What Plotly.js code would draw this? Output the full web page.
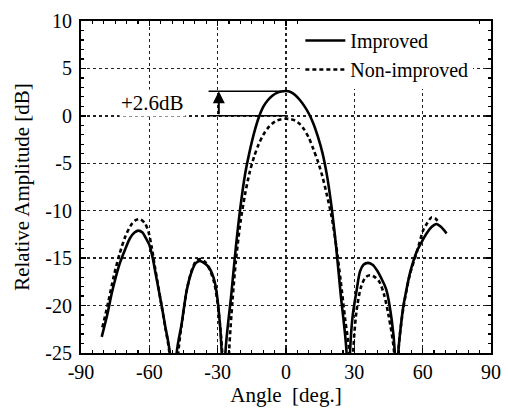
<!DOCTYPE html>
<html>
<head>
<meta charset="utf-8">
<script src="https://cdn.plot.ly/plotly-3.0.1.min.js"></script>
<style>html,body{margin:0;padding:0;background:#fff;}#chart{width:508px;height:419px;}</style>
</head>
<body>
<div id="chart"></div>
<script>
// Improved (solid)
const improvedAngle = [-80.9,-78.5,-76.5,-74.5,-72.9,-70.5,-68.5,-66.5,-64.8,-63,-61.5,-60,-58.5,-57.5,-56,-54.6,-53,-51,
  -49.5,
  -48,-45.8,-43.6,-41.4,-39.5,-37.8,-36,-34.1,-32.5,-31.2,-29.7,-28.2,
  -27.5,
  -26.6,-24,-22,-20,-18,-16,-14,-12,-10,-8,-6,-4,-2,0,2,4,6,8,10,12,14,16,18,20,22,24,26.6,
  27.3,
  28.1,29.3,31,32.5,34,36,38,40,42,44,46.4,47.8,
  48.5,
  49.3,50.5,51.5,53,54.4,57.4,60,62,64,66,68,70.5];
const improvedDB = [-23.3,-21,-18.7,-16.8,-15.5,-14,-12.9,-12.3,-12.1,-12.3,-12.9,-13.6,-15,-16.3,-18.2,-20,-22.2,-25,
  -40,
  -25,-21.9,-18.4,-16.4,-15.5,-15.3,-15.5,-15.9,-16.6,-17.6,-20.1,-25,
  -40,
  -25,-18.8,-13.8,-9.6,-6.2,-3.8,-1.8,-0.2,0.95,1.65,2.12,2.43,2.57,2.62,2.52,2.2,1.7,1.05,0.25,-0.8,-2.2,-3.9,-6.3,-9.6,-13.8,-18.8,-25,
  -40,
  -25,-21,-18.4,-16.4,-15.7,-15.5,-15.7,-16.3,-17.2,-18.3,-21.5,-25,
  -40,
  -25,-22,-20.1,-18.2,-16.6,-14.3,-13.1,-12.3,-11.7,-11.4,-11.7,-12.4];

// Non-improved (dashed)
const nonImprovedAngle = [-80.6,-78,-75.5,-73,-70.5,-68,-66,-64,-62,-60.4,-59,-57.5,-55,-53,-51.2,
  -49.5,
  -47.3,-45.5,-43.5,-41.4,-39.5,-37.5,-35.5,-33.5,-31.5,-30,-28.8,-28,
  -26.5,
  -25,-23.5,-22,-20,-18,-16,-14,-12,-10,-8,-6,-4,-2,0,2,4,6,8,10,12,14,16,18,20,22,24,26,27.8,
  28.7,
  29.5,31,33,35,37,39,41,43,45,47.5,
  48.4,
  49.3,51.5,54.4,57.4,60.3,61.5,63.9,65.5,66.9];
const nonImprovedDB = [-22.3,-19.6,-16.8,-14.5,-12.7,-11.5,-11,-10.9,-11.3,-12.2,-13.8,-16,-19.5,-22.3,-25,
  -40,
  -25,-21.5,-18.3,-16.3,-15.3,-15.1,-15.4,-16.2,-17.6,-19.8,-22.5,-25,
  -40,
  -25,-19.5,-15.3,-11.2,-8.3,-6.0,-4.3,-3.0,-2.0,-1.3,-0.8,-0.5,-0.35,-0.3,-0.35,-0.5,-0.85,-1.45,-2.3,-3.5,-4.8,-6.4,-8.4,-10.6,-13.6,-17.4,-21.5,-25,
  -40,
  -25,-20.5,-18,-17,-16.8,-17,-17.5,-18.8,-21,-25,
  -40,
  -25,-20.3,-16.7,-14.4,-12,-11.5,-10.7,-10.8,-11.2];

// Gain marker
const markerAngle = -29.5;
const markerLineStart = -34;
const peakImproved = 2.6;
const peakNonImproved = 0;
const gainLabel = '+2.6dB';

const xTicks = [-90,-60,-30,0,30,60,90];
const yTicks = [-25,-20,-15,-10,-5,0,5,10];

const serif = 'Liberation Serif, Times New Roman, serif';

const traces = [
  {x: improvedAngle, y: improvedDB, name: 'Improved', mode: 'lines',
   line: {color: '#000', width: 2.6, shape: 'spline', smoothing: 0.8}},
  {x: nonImprovedAngle, y: nonImprovedDB, name: 'Non-improved', mode: 'lines',
   line: {color: '#000', width: 2.6, dash: '4px,3px', shape: 'spline', smoothing: 0.8}}
];

const layout = {
  width: 508, height: 419,
  margin: {l: 81, r: 17, t: 21, b: 66},
  paper_bgcolor: '#fff', plot_bgcolor: '#fff',
  font: {family: serif, size: 20, color: '#000'},
  showlegend: true,
  legend: {x: 0.535, y: 1, xanchor: 'left', yanchor: 'top', bgcolor: '#fff',
    borderwidth: 0, itemwidth: 40, font: {family: serif, size: 20, color: '#000'}, tracegroupgap: 0},
  xaxis: {
    range: [-90, 90], tickvals: xTicks, ticktext: xTicks.map(String),
    showline: true, linecolor: '#000', linewidth: 2, mirror: 'allticks',
    ticks: 'inside', ticklen: 5, tickwidth: 1.5, tickcolor: '#000',
    minor: {dtick: 5, tick0: 0, ticks: 'inside', ticklen: 3, tickwidth: 1.2, tickcolor: '#000', showgrid: false},
    showgrid: true, gridcolor: '#222', gridwidth: 1.3, griddash: 'dot', zeroline: false,
    tickfont: {family: serif, size: 20}, ticklabelstandoff: 0,
    title: {text: 'Angle  [deg.]', font: {family: serif, size: 21}, standoff: 4}
  },
  yaxis: {
    range: [-25, 10], tickvals: yTicks, ticktext: yTicks.map(String),
    showline: true, linecolor: '#000', linewidth: 2, mirror: 'allticks',
    ticks: 'inside', ticklen: 5, tickwidth: 1.5, tickcolor: '#000',
    minor: {dtick: 1, tick0: 0, ticks: 'inside', ticklen: 3, tickwidth: 1.2, tickcolor: '#000', showgrid: false},
    showgrid: true, gridcolor: '#222', gridwidth: 1.3, griddash: 'dot', zeroline: false,
    tickfont: {family: serif, size: 20}, ticklabelstandoff: 3,
    title: {text: 'Relative Amplitude [dB]', font: {family: serif, size: 21}, standoff: 10}
  },
  shapes: [
    {type: 'line', xref: 'x', yref: 'y', x0: markerLineStart, x1: 0, y0: peakImproved, y1: peakImproved,
     line: {color: '#000', width: 1.5}},
    {type: 'line', xref: 'x', yref: 'y', x0: markerLineStart, x1: 0, y0: peakNonImproved, y1: peakNonImproved,
     line: {color: '#000', width: 1.5}}
  ],
  annotations: [
    {x: markerAngle, y: peakImproved, ax: markerAngle, ay: peakNonImproved, xref: 'x', yref: 'y', axref: 'x', ayref: 'y',
     showarrow: true, arrowhead: 2, arrowsize: 1.2, arrowwidth: 2, arrowcolor: '#000', text: ''},
    {x: -58.8, y: 1.35, xref: 'x', yref: 'y', text: gainLabel, showarrow: false, bgcolor: '#fff',
     font: {family: serif, size: 21, color: '#000'}}
  ]
};

Plotly.newPlot('chart', traces, layout, {displayModeBar: false, staticPlot: true});
</script>
</body>
</html>
